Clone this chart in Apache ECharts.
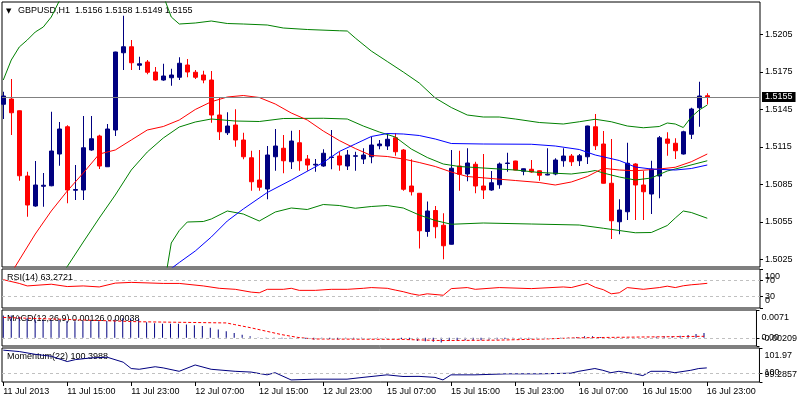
<!DOCTYPE html>
<html><head><meta charset="utf-8">
<script src="https://cdn.jsdelivr.net/npm/echarts@6/dist/echarts.min.js"></script>
<style>html,body{margin:0;padding:0;background:#fff}#c{width:800px;height:400px}</style>
</head><body><div id="c"></div>
<script>
const symbolName = 'GBPUSD,H1';
const timeLabels = ['11 Jul 2013','11 Jul 15:00','11 Jul 23:00','12 Jul 07:00','12 Jul 15:00','12 Jul 23:00','15 Jul 07:00','15 Jul 15:00','15 Jul 23:00','16 Jul 07:00','16 Jul 15:00','16 Jul 23:00'];
const barsPerLabel = 8;
const priceTicks = [1.5025,1.5055,1.5085,1.5115,1.5145,1.5175,1.5205];
const rsiRange = [0,100];
const rsiLevels = [30,70];
const macdRange = [-0.00209,0.0071];
const macdZero = [0];
const momRange = [99.2857,101.97];
const momLevel = [100];

const open = [1.51492,1.51534,1.51440,1.50918,1.50678,1.50836,1.50840,1.51094,1.51312,1.50804,
1.50806,1.51126,1.51238,1.50992,1.51286,1.51904,1.51952,1.51804,1.51830,1.51750,
1.51686,1.51704,1.51708,1.51806,1.51748,1.51726,1.51686,1.51406,1.51264,1.51326,
1.51206,1.51064,1.50886,1.50814,1.51072,1.51140,1.51032,1.51184,1.51054,1.51006,
1.50998,1.51066,1.51078,1.50998,1.51076,1.51054,1.51072,1.51160,1.51158,1.51224,
1.51126,1.50838,1.50780,1.50474,1.50642,1.50524,1.50372,1.50998,1.50934,1.51012,
1.50838,1.50806,1.50848,1.51018,1.51038,1.50956,1.50972,1.50960,1.50926,1.50934,
1.51040,1.51078,1.51040,1.51072,1.51312,1.51174,1.50860,1.50552,1.50632,1.51014,
1.50846,1.50774,1.50918,1.51214,1.51180,1.51094,1.51252,1.51464,1.51560];
const high = [1.51592,1.51694,1.51442,1.50952,1.51038,1.50942,1.51432,1.51350,1.51324,1.51006,
1.51398,1.51398,1.51248,1.51334,1.51912,1.52200,1.52006,1.51872,1.51846,1.51790,
1.51816,1.51776,1.51868,1.51854,1.51766,1.51760,1.51758,1.51548,1.51428,1.51452,
1.51264,1.51120,1.51126,1.51158,1.51294,1.51246,1.51280,1.51286,1.51086,1.51054,
1.51132,1.51286,1.51112,1.51126,1.51112,1.51140,1.51232,1.51206,1.51260,1.51260,
1.51134,1.51052,1.50782,1.50714,1.50678,1.50620,1.51126,1.51120,1.51140,1.51032,
1.51094,1.50958,1.51026,1.51104,1.51040,1.50978,1.51046,1.50962,1.51140,1.51060,
1.51140,1.51094,1.51094,1.51320,1.51414,1.51278,1.51214,1.50732,1.51184,1.51020,
1.50958,1.51040,1.51238,1.51268,1.51220,1.51280,1.51464,1.51672,1.51580];
const low = [1.51374,1.51246,1.50880,1.50592,1.50672,1.50672,1.50836,1.51000,1.50700,1.50726,
1.50726,1.51120,1.50974,1.50990,1.51238,1.51766,1.51766,1.51766,1.51732,1.51680,
1.51680,1.51640,1.51686,1.51708,1.51694,1.51660,1.51344,1.51206,1.51246,1.51152,
1.51052,1.50800,1.50800,1.50732,1.50960,1.50940,1.50974,1.50960,1.50960,1.50952,
1.50992,1.50972,1.50960,1.50966,1.50960,1.51014,1.51020,1.51132,1.51126,1.51080,
1.50800,1.50762,1.50338,1.50432,1.50420,1.50252,1.50370,1.50800,1.50876,1.50780,
1.50734,1.50800,1.50816,1.50952,1.50964,1.50924,1.50944,1.50880,1.50924,1.50924,
1.50992,1.50998,1.50998,1.51014,1.51126,1.50858,1.50414,1.50452,1.50566,1.50566,
1.50566,1.50614,1.50740,1.51080,1.51054,1.51090,1.51214,1.51312,1.51490];
const close = [1.51558,1.51424,1.50920,1.50686,1.50846,1.50844,1.51118,1.51294,1.50806,1.50810,
1.51144,1.51216,1.50998,1.51294,1.51910,1.51952,1.51824,1.51816,1.51748,1.51686,
1.51718,1.51726,1.51820,1.51750,1.51708,1.51686,1.51406,1.51272,1.51318,1.51206,
1.51072,1.50872,1.50828,1.51086,1.51158,1.51040,1.51198,1.51040,1.51006,1.51012,
1.51100,1.51070,1.51006,1.51086,1.51080,1.51086,1.51166,1.51174,1.51212,1.51112,
1.50812,1.50792,1.50480,1.50638,1.50512,1.50360,1.50980,1.50932,1.51022,1.50838,
1.50806,1.50864,1.51014,1.51022,1.50966,1.50976,1.50950,1.50924,1.50932,1.51046,
1.51078,1.51032,1.51080,1.51318,1.51160,1.50860,1.50560,1.50646,1.51020,1.50846,
1.50792,1.50974,1.51224,1.51180,1.51120,1.51272,1.51454,1.51558,1.51550];

// indicator readings: [bar index, value]
const bbUpper = [[0,1.51686],[1,1.51846],[2,1.51950],[3,1.52006],[4,1.52070],[5,1.52110],[6,1.52190],[7,1.52318],[9,1.52400],[12,1.52470],[15,1.52500],[18,1.52460],[20,1.52360],[21,1.52190],[22,1.52134],[24,1.52142],[26,1.52158],[28,1.52138],[30,1.52134],[33,1.52126],[35,1.52102],[38,1.52090],[42,1.52080],[43,1.52078],[44,1.52022],[46,1.51918],[48,1.51834],[50,1.51750],[52,1.51662],[54,1.51542],[56,1.51466],[58,1.51406],[60,1.51390],[62,1.51390],[64,1.51374],[67,1.51346],[70,1.51334],[72,1.51352],[74,1.51372],[76,1.51352],[78,1.51318],[80,1.51304],[82,1.51314],[83,1.51342],[84,1.51334],[85,1.51306],[86,1.51390],[87,1.51446],[88,1.51486]];
const bbMiddle = [[7,1.50096],[8,1.50194],[10,1.50390],[12,1.50582],[14,1.50766],[16,1.50966],[18,1.51110],[20,1.51222],[22,1.51310],[24,1.51350],[26,1.51374],[29,1.51358],[32,1.51354],[35,1.51378],[40,1.51380],[43,1.51374],[45,1.51318],[47,1.51270],[49,1.51230],[51,1.51134],[53,1.51066],[55,1.51014],[57,1.50994],[60,1.50982],[64,1.50966],[67,1.50946],[71,1.50934],[73,1.50950],[74,1.50962],[75,1.50942],[77,1.50910],[79,1.50886],[81,1.50902],[83,1.50958],[85,1.50990],[88,1.51040]];
const bbLower = [[20,1.50000],[21,1.50382],[22,1.50482],[23,1.50550],[25,1.50554],[26,1.50574],[28,1.50638],[30,1.50614],[32,1.50558],[34,1.50630],[36,1.50662],[38,1.50650],[40,1.50690],[42,1.50682],[44,1.50660],[46,1.50674],[48,1.50682],[50,1.50662],[52,1.50606],[54,1.50562],[56,1.50532],[60,1.50542],[66,1.50534],[72,1.50526],[75,1.50500],[79,1.50464],[81,1.50466],[83,1.50522],[84,1.50582],[85,1.50638],[86,1.50626],[88,1.50580]];
const maRed = [[0,1.50038],[2,1.50246],[4,1.50454],[6,1.50638],[8,1.50798],[10,1.50942],[12,1.51094],[14,1.51126],[16,1.51206],[18,1.51286],[20,1.51314],[22,1.51366],[24,1.51450],[26,1.51512],[28,1.51550],[30,1.51562],[32,1.51546],[34,1.51494],[36,1.51422],[38,1.51366],[40,1.51278],[42,1.51202],[44,1.51138],[46,1.51082],[48,1.51074],[50,1.51054],[52,1.51026],[54,1.50994],[56,1.50950],[58,1.50914],[61,1.50898],[64,1.50882],[67,1.50866],[69,1.50846],[71,1.50870],[73,1.50914],[75,1.50980],[77,1.50966],[79,1.50960],[82,1.50974],[84,1.50988],[86,1.51032],[88,1.51094]];
const maBlue = [[20,1.50134],[21,1.50178],[22,1.50226],[24,1.50318],[26,1.50430],[28,1.50558],[30,1.50654],[33,1.50786],[36,1.50886],[40,1.51026],[42,1.51114],[44,1.51174],[46,1.51234],[48,1.51258],[50,1.51254],[52,1.51242],[54,1.51214],[56,1.51178],[60,1.51174],[66,1.51172],[69,1.51158],[72,1.51130],[74,1.51086],[77,1.51042],[79,1.50990],[81,1.50974],[84,1.50966],[86,1.50978],[88,1.51006]];
const rsi = [[0,72.6],[2,63],[3,56.6],[6,61],[8,55],[10,56.6],[12,54],[14,63.8],[16,65.7],[20,63],[22,63],[25,56.6],[27,50.5],[29,47.9],[31,40.7],[32,39],[33,47.9],[35,47.9],[36,50.5],[37,45.2],[39,45.2],[41,47.9],[43,47.9],[45,50.5],[46,52.4],[48,50.5],[49,46],[50,41.8],[51,36.4],[52,32.7],[53,36.4],[55,32.7],[56,49.7],[58,52.4],[59,47.9],[62,52.4],[66,49.7],[70,54],[71,52.4],[73,63],[74,53],[75,47],[76,36.4],[77,39],[78,52.4],[80,47.9],[82,52.4],[83,56],[84,52.4],[85,57],[86,59.5],[87,61.2],[88,63.2721]];
const macdHist = [0.0057,0.0057,0.0054,0.0050,0.0047,0.0045,0.0045,0.0046,0.0043,0.0042,
0.0043,0.0044,0.0042,0.0043,0.0047,0.0050,0.0050,0.0048,0.0040,0.0037,
0.0036,0.0036,0.0036,0.0034,0.0032,0.0030,0.0026,0.0021,0.0017,0.0012,
0.0008,0.0004,0.0001,-0.0001,-0.0001,-0.0002,-0.0002,-0.0003,-0.0003,-0.0004,
-0.0003,-0.0003,-0.0004,-0.0003,-0.0002,-0.0001,0.0000,0.0001,0.0001,0.0000,
-0.0003,-0.0005,-0.0008,-0.0009,-0.0010,-0.0012,-0.0008,-0.0007,-0.0006,-0.0006,
-0.0006,-0.0005,-0.0004,-0.0003,-0.0003,-0.0003,-0.0002,-0.0002,-0.0001,0.0000,
0.0001,0.0001,0.0002,0.0004,0.0004,0.0002,-0.0001,-0.0001,0.0001,0.0000,
0.0000,0.0001,0.0003,0.0004,0.0004,0.0005,0.0007,0.0010,0.00126];
const macdSignal = [[0,0.0052],[17,0.0041],[28,0.0038],[29,0.0034],[31,0.0026],[33,0.0017],[35,0.0008],[37,0.0001],[39,-0.0003],[50,-0.0004],[55,-0.0007],[62,-0.0006],[68,-0.0003],[72,0.0000],[80,0.0002],[88,0.00038]];
const momentum = [[0,101.80],[2,101.69],[4,101.47],[6,101.32],[8,100.90],[9,101.05],[11,101.19],[13,101.24],[15,100.85],[16,100.35],[17,100.29],[19,100.49],[20,100.40],[22,100.13],[24,100.63],[26,100.29],[29,100.13],[31,100.07],[33,99.85],[34,100.02],[36,99.45],[39,99.51],[43,99.51],[45,99.65],[48,99.85],[50,99.72],[52,99.73],[54,99.65],[55,99.45],[56,99.85],[59,99.85],[63,99.93],[67,99.93],[71,99.98],[72,100.13],[74,100.35],[75,100.21],[76,100.02],[77,100.13],[79,99.93],[80,99.79],[81,100.13],[83,100.13],[84,100.02],[86,100.21],[87,100.35],[88,100.3988]];

const FONT = 'Liberation Sans';
const candles = close.map((c, i) => [i, open[i], c, low[i], high[i]]);
const last = close.length - 1;
const tickIdx = timeLabels.map((_, k) => k * barsPerLabel);
const xMin = -0.16, xMax = 94.59;

function xAxisCfg(gi, showAll) {
  return {type: 'value', gridIndex: gi, min: xMin, max: xMax, show: showAll,
    axisLine: {show: false, onZero: false}, splitLine: {show: false},
    axisTick: {show: showAll, customValues: tickIdx, length: 4, lineStyle: {color: '#000'}},
    axisLabel: {show: showAll, customValues: tickIdx, formatter: v => timeLabels[Math.round(v / barsPerLabel)],
      align: 'left', margin: 5, fontSize: 9, fontFamily: FONT, color: '#000', showMinLabel: true, showMaxLabel: true}};
}
// one right-side axis per label group; edge=true pins the min/max labels inside the panel
function yAxisCfg(gi, range, vals, fmt, edge) {
  const lab = {customValues: vals, formatter: fmt, fontSize: 9, fontFamily: FONT, color: '#000', margin: 5,
    showMinLabel: true, showMaxLabel: true, hideOverlap: false};
  if (edge) { lab.verticalAlignMinLabel = 'bottom'; lab.verticalAlignMaxLabel = 'top'; lab.padding = [3, 0, 3, 0]; }
  return {type: 'value', gridIndex: gi, position: 'right', min: range[0], max: range[1],
    axisLine: {show: false, onZero: false}, splitLine: {show: false},
    axisTick: {show: true, customValues: vals, length: 3, lineStyle: {color: '#000'}},
    axisLabel: lab};
}
const levelLine = vals => ({silent: true, symbol: ['none', 'none'], label: {show: false}, animation: false, precision: 6,
  lineStyle: {color: '#c0c0c0', type: [3, 3], width: 1}, data: vals.map(v => ({yAxis: v}))});
const bidLine = {silent: true, symbol: ['none', 'none'], animation: false, precision: 6,
  lineStyle: {color: '#808080', type: 'solid', width: 1},
  label: {show: true, position: 'end', distance: 2, formatter: () => close[last].toFixed(4),
    color: '#fff', backgroundColor: '#000', padding: [1, 3, 0, 3], fontSize: 9, fontFamily: FONT},
  data: [{yAxis: close[last]}]};
const line = (name, data, color, gi, extra) => Object.assign({type: 'line', name, data, xAxisIndex: gi, yAxisIndex: gi,
  symbol: 'none', showSymbol: false, silent: true, animation: false, z: 3,
  lineStyle: {color, width: 1}}, extra || {});

const fmtMacd = v => v === 0 ? '0.00' : String(v);
const gridBase = {left: 2, right: 40, show: true, borderColor: '#000', borderWidth: 1, backgroundColor: '#fff'};
const chart = echarts.init(document.getElementById('c'), null, {renderer: 'canvas'});
chart.setOption({
  animation: false,
  backgroundColor: '#fff',
  textStyle: {fontFamily: FONT},
  grid: [
    Object.assign({top: 2, height: 265}, gridBase),
    Object.assign({top: 269, height: 39}, gridBase),
    Object.assign({top: 310, height: 36}, gridBase),
    Object.assign({top: 348, height: 34}, gridBase)
  ],
  xAxis: [xAxisCfg(0, false), xAxisCfg(1, false), xAxisCfg(2, false), xAxisCfg(3, true)],
  yAxis: [
    yAxisCfg(0, [1.5019, 1.5231], priceTicks, v => v.toFixed(4), false),
    yAxisCfg(1, rsiRange, rsiRange, v => String(v), true),
    yAxisCfg(2, macdRange, macdRange, fmtMacd, true),
    yAxisCfg(3, momRange, momRange, v => String(v), true),
    yAxisCfg(1, rsiRange, rsiLevels, v => String(v), false),
    yAxisCfg(2, macdRange, macdZero, fmtMacd, false),
    yAxisCfg(3, momRange, momLevel, v => String(v), false)
  ],
  graphic: [
    {type: 'text', x: 6, y: 11, style: {text: '▼', font: '7px "DejaVu Sans"', fill: '#000', verticalAlign: 'middle'}},
    {type: 'text', x: 18, y: 11, style: {text: symbolName + '  ' + [open[last], high[last], low[last], close[last]].map(v => v.toFixed(4)).join(' '),
      font: '9px "' + FONT + '"', fill: '#000', verticalAlign: 'middle'}},
    {type: 'text', x: 7, y: 278, style: {text: 'RSI(14) ' + rsi[rsi.length - 1][1].toFixed(4), font: '9px "' + FONT + '"', fill: '#000', verticalAlign: 'middle'}},
    {type: 'text', x: 7, y: 319, style: {text: 'MACD(12,26,9) ' + macdHist[last].toFixed(5) + ' ' + macdSignal[macdSignal.length - 1][1].toFixed(5), font: '9px "' + FONT + '"', fill: '#000', verticalAlign: 'middle'}},
    {type: 'text', x: 7, y: 357, style: {text: 'Momentum(22) ' + momentum[momentum.length - 1][1].toFixed(4), font: '9px "' + FONT + '"', fill: '#000', verticalAlign: 'middle'}}
  ],
  series: [
    line('BB upper', bbUpper, '#008000', 0, {markLine: bidLine}),
    line('BB middle', bbMiddle, '#008000', 0),
    line('BB lower', bbLower, '#008000', 0),
    line('MA red', maRed, '#ff0000', 0),
    line('MA blue', maBlue, '#0000ff', 0),
    {type: 'candlestick', name: symbolName, xAxisIndex: 0, yAxisIndex: 0, data: candles,
      encode: {x: 0, y: [1, 2, 3, 4]}, barWidth: 4, silent: true, animation: false, z: 2,
      itemStyle: {color: '#000080', color0: '#ff0000', borderColor: '#000080', borderColor0: '#ff0000', borderWidth: 1}},
    line('RSI', rsi, '#ff0000', 1, {markLine: levelLine(rsiLevels)}),
    {type: 'bar', name: 'MACD', data: macdHist.map((v, i) => [i, v]), xAxisIndex: 2, yAxisIndex: 2,
      barWidth: 1, silent: true, animation: false, itemStyle: {color: '#000080'}, markLine: levelLine(macdZero)},
    line('Signal', macdSignal, '#ff0000', 2, {lineStyle: {color: '#ff0000', width: 1, type: [3, 2]}}),
    line('Momentum', momentum, '#000080', 3, {markLine: levelLine(momLevel)})
  ]
});
</script></body></html>
